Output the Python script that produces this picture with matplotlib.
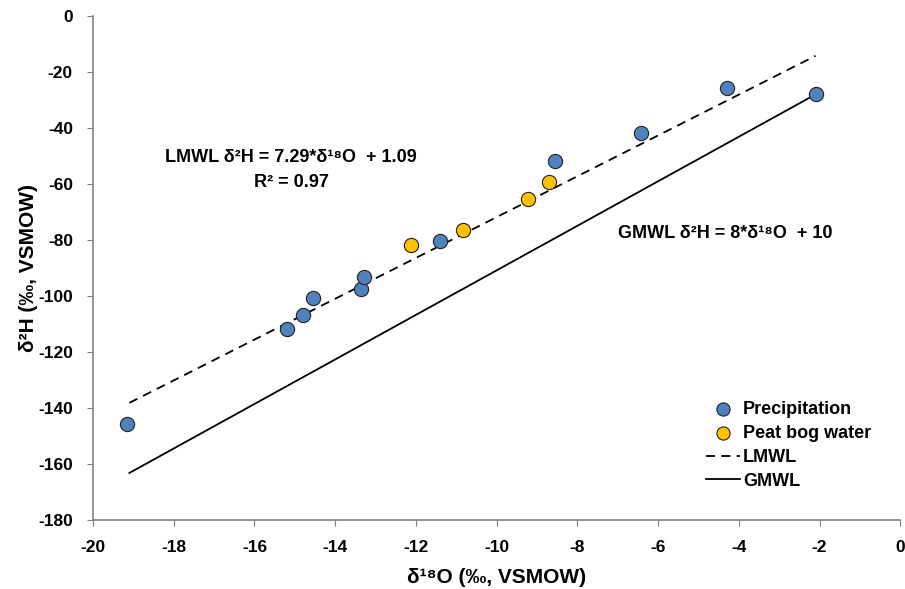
import matplotlib.pyplot as plt
import numpy as np

plt.rcParams['font.family'] = ['Liberation Sans', 'DejaVu Sans']
plt.rcParams['font.weight'] = 'bold'
plt.rcParams['axes.unicode_minus'] = False

# precipitation samples (d18O, d2H)
precip_o = [-19.15, -15.2, -14.8, -14.55, -13.35, -13.28, -11.4, -8.55, -6.42, -4.3, -2.1]
precip_h = [-145.7, -111.8, -106.8, -100.8, -97.5, -93.3, -80.4, -51.8, -41.8, -25.7, -27.9]

# peat bog water samples
bog_o = [-12.12, -10.83, -9.22, -8.70]
bog_h = [-81.8, -76.4, -65.4, -59.3]

# local meteoric water line coefficients and range
lmwl_slope = 7.29
lmwl_icpt = 1.09
lmwl_x = [-19.1, -2.1]

# global meteoric water line as drawn in the figure
gmwl_x = [-19.1, -2.1]
gmwl_y = [-163.2, -28.0]

fig = plt.figure(figsize=(9.05, 5.89), dpi=100)
ax = fig.add_axes([0.1028, 0.1171, 0.892, 0.8557])

lx = np.array(lmwl_x)
ax.plot(lx, lmwl_slope * lx + lmwl_icpt, color='black', lw=1.3,
        linestyle=(0, (5, 3.5)), label='LMWL', zorder=2)
ax.plot(gmwl_x, gmwl_y, color='black', lw=1.3, label='GMWL', zorder=2)

ax.scatter(precip_o, precip_h, s=105, color='#4F81BD', edgecolor='#222222',
           linewidth=0.8, label='Precipitation', zorder=3)
ax.scatter(bog_o, bog_h, s=105, color='#FFC000', edgecolor='#222222',
           linewidth=0.8, label='Peat bog water', zorder=3)

ax.set_xlim(-20, 0)
ax.set_ylim(-180, 0)
ax.set_xticks(np.arange(-20, 1, 2))
ax.set_yticks(np.arange(-180, 1, 20))
for s in ['top', 'right']:
    ax.spines[s].set_visible(False)
for s in ['left', 'bottom']:
    ax.spines[s].set_color('#808080')
    ax.spines[s].set_linewidth(1.2)
ax.tick_params(direction='out', length=4.5, color='#808080', labelsize=12.5, pad=10)
for lab in ax.get_xticklabels() + ax.get_yticklabels():
    lab.set_fontweight('bold')

ax.set_xlabel('δ¹⁸O (‰, VSMOW)', fontsize=15, fontweight='bold', labelpad=9)
ax.set_ylabel('δ²H (‰, VSMOW)', fontsize=15, fontweight='bold', labelpad=0)

ax.text(-15.09, -50.7, 'LMWL δ²H = 7.29*δ¹⁸O  + 1.09', ha='center',
        va='center', fontsize=13, fontweight='bold')
ax.text(-15.09, -59.6, 'R² = 0.97', ha='center',
        va='center', fontsize=13, fontweight='bold')
ax.text(-7.0, -77.5, 'GMWL δ²H = 8*δ¹⁸O  + 10', ha='left', va='center',
        fontsize=13, fontweight='bold')

h, l = ax.get_legend_handles_labels()
order = [2, 3, 0, 1]
leg = ax.legend([h[i] for i in order], [l[i] for i in order], loc='lower left',
                bbox_to_anchor=(0.7596, 0.06), frameon=False,
                borderaxespad=0, borderpad=0,
                handlelength=1.85, handletextpad=0.2, labelspacing=0.38,
                prop={'weight': 'bold', 'size': 13})
for hd in leg.legend_handles[:2]:
    hd.set_sizes([90])

fig.savefig('out.png', dpi=100)
